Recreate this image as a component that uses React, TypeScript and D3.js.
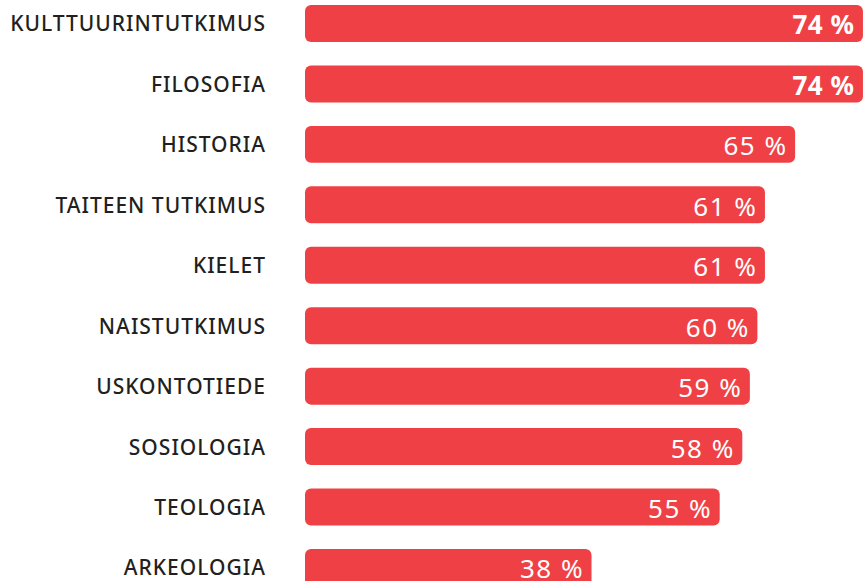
import React from "react";
import * as d3 from "d3";

const categories = [
  "KULTTUURINTUTKIMUS",
  "FILOSOFIA",
  "HISTORIA",
  "TAITEEN TUTKIMUS",
  "KIELET",
  "NAISTUTKIMUS",
  "USKONTOTIEDE",
  "SOSIOLOGIA",
  "TEOLOGIA",
  "ARKEOLOGIA",
];
const values = [74, 74, 65, 61, 61, 60, 59, 58, 55, 38];
const boldFlags = [true, true, false, false, false, false, false, false, false, false];

const W = 863;
const H = 581;

export default function App() {
  const step = 60.44;
  const pIn = 0.388;
  const pOut = pIn / 2;
  const start = 5 - pOut * step;
  const y = d3
    .scaleBand<string>()
    .domain(categories)
    .range([start, start + step * categories.length])
    .paddingInner(pIn)
    .paddingOuter(pOut);
  const x = d3.scaleLinear().domain([0, 100]).range([305, 305 + 754]);
  const font = "'Noto Sans', sans-serif";
  const labelLS = 1.0;

  return (
    <svg
      width={W}
      height={H}
      style={{ position: "absolute", left: 0, top: 0, display: "block", background: "#fff" }}
    >
      {categories.map((c, i) => {
        const y0 = y(c)!;
        const bh = y.bandwidth();
        const cy = y0 + bh / 2;
        const xr = x(values[i]);
        const valLS = boldFlags[i] ? 0.5 : 1.5;
        return (
          <g key={c}>
            <text
              x={265 + labelLS}
              y={cy}
              textAnchor="end"
              dominantBaseline="central"
              fontFamily={font}
              fontSize={21}
              fontWeight={500}
              letterSpacing={labelLS}
              fill="#231f20"
            >
              {c}
            </text>
            <rect x={x(0)} y={y0} width={xr - x(0)} height={bh} rx={6} ry={6} fill="#ef4145" />
            <text
              x={xr - 9 + valLS}
              y={cy + 1}
              textAnchor="end"
              dominantBaseline="central"
              fontFamily={font}
              fontSize={26}
              fontWeight={boldFlags[i] ? 700 : 400}
              letterSpacing={valLS}
              fill="#ffffff"
            >
              {values[i]} %
            </text>
          </g>
        );
      })}
    </svg>
  );
}
